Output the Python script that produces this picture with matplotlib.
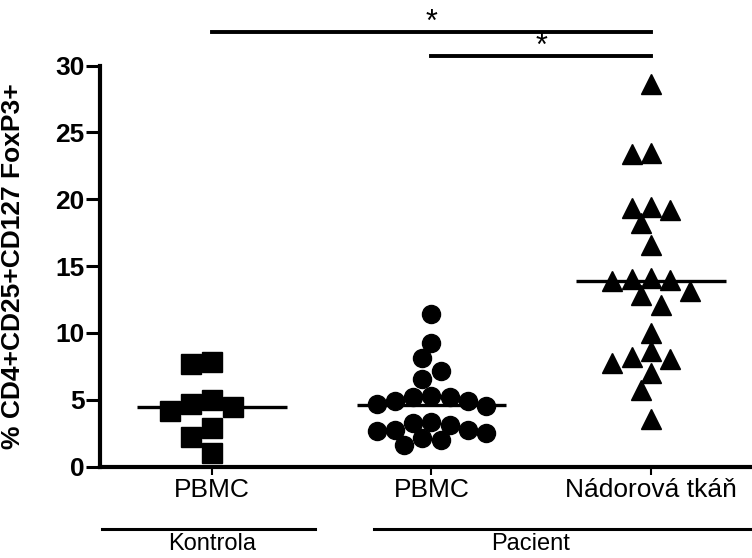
import matplotlib
matplotlib.use("Agg")
import matplotlib.pyplot as plt
import numpy as np

plt.rcParams["font.family"] = ["Liberation Sans", "DejaVu Sans"]

# % CD4+CD25+CD127 FoxP3+ per sample
kontrola_pbmc = [7.82, 7.67, 4.97, 4.45, 4.15, 4.68, 2.88, 2.21, 1.01]
pacient_pbmc = [11.41, 9.24, 8.12, 7.14, 6.54, 5.20, 4.90, 4.68, 4.53, 4.90, 5.20,
                5.27, 2.73, 2.66, 2.13, 3.25, 1.61, 1.98, 3.33, 2.51, 2.73, 3.10]
pacient_tkan = [28.6, 23.4, 23.45, 19.34, 19.19, 19.41, 18.2, 16.57, 13.95, 14.10,
                14.0, 13.9, 13.13, 12.83, 12.08, 9.99, 8.19, 8.64, 8.04, 7.74,
                6.99, 5.72, 3.55]

columns = [kontrola_pbmc, pacient_pbmc, pacient_tkan]
column_labels = ["PBMC", "PBMC", "Nádorová tkáň"]
markers = ["s", "o", "^"]
marker_sizes = [15, 13, 14]
y_ticks = [0, 5, 10, 15, 20, 25, 30]
group_labels = ["Kontrola", "Pacient"]
group_spans = [(-0.50, 0.47), (0.74, 2.46)]
group_centers = [0.0, 1.45]
comparisons = [(0, 2), (1, 2)]
comparison_heights = [32.5, 30.7]

W, H = 752, 558
fig = plt.figure(figsize=(W / 100, H / 100), dpi=100)
ax = fig.add_axes([100 / W, 1 - 466.5 / H, 652 / W, 401 / H])
ax.set_xlim(-0.51, 2.46)
ax.set_ylim(0, 30)


def swarm_offsets(values, size_px, overlap=0.9):
    # simple beeswarm: place each point as close to the centre as it fits
    x0, y0 = ax.transData.transform((0, 0))
    x1, y1 = ax.transData.transform((1, 1))
    sx, sy = x1 - x0, y1 - y0
    step = size_px / 2.0
    placed = []
    offs = np.zeros(len(values))
    for i in np.argsort(values)[::-1]:
        y = values[i] * sy
        for k in range(60):
            cands = [0.0] if k == 0 else [-k * step, k * step]
            found = None
            for x in cands:
                if all((x - px) ** 2 + (y - py) ** 2 >= (size_px * overlap) ** 2
                       for px, py in placed):
                    found = x
                    break
            if found is not None:
                break
        placed.append((found, y))
        offs[i] = found / sx
    return offs


for i, vals in enumerate(columns):
    vals = np.array(vals)
    size_px = marker_sizes[i] * 100 / 72
    offs = swarm_offsets(vals, size_px)
    ax.plot(i + offs, vals, linestyle="none", marker=markers[i],
            markersize=marker_sizes[i], color="black", clip_on=False)
    ax.hlines(np.median(vals), i - 0.34, i + 0.34, color="black", linewidth=2.4)

for s in ["top", "right"]:
    ax.spines[s].set_visible(False)
for s in ["left", "bottom"]:
    ax.spines[s].set_linewidth(3)

ax.set_yticks(y_ticks)
ax.set_yticklabels([str(t) for t in y_ticks], fontsize=19, fontweight="bold")
ax.tick_params(axis="y", length=10, width=2.2, pad=1)
ax.set_xticks(range(len(column_labels)))
ax.set_xticklabels(column_labels, fontsize=19)
ax.tick_params(axis="x", length=6, width=1.5, pad=2)

ax.set_ylabel("% CD4+CD25+CD127 FoxP3+", fontsize=19, fontweight="bold")
ax.yaxis.set_label_coords(-0.115, 0.5)

# group bars and names below the axis
tr = ax.get_xaxis_transform()
for (a, b), name, c in zip(group_spans, group_labels, group_centers):
    ax.plot([a, b], [-0.156, -0.156], color="black", linewidth=2.2,
            transform=tr, clip_on=False)
    ax.text(c, -0.209, name, fontsize=17, ha="center", va="baseline",
            transform=tr)

# significance bars
for (a, b), h in zip(comparisons, comparison_heights):
    ax.plot([a, b], [h, h], color="black", linewidth=2.8, clip_on=False)
    ax.text((a + b) / 2, h + 0.1, "*", fontsize=22, ha="center",
            va="baseline")

fig.savefig("out.png", dpi=100)
